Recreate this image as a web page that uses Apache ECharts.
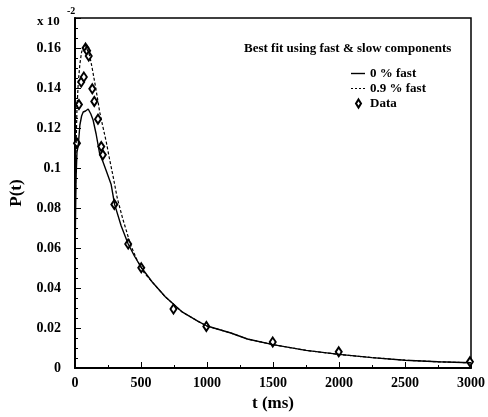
<!DOCTYPE html>
<html>
<head>
<meta charset="utf-8">
<script src="https://cdn.jsdelivr.net/npm/echarts@6/dist/echarts.min.js"></script>
<style>html,body{margin:0;padding:0;background:#fff}#c{width:488px;height:417px}</style>
</head>
<body>
<div id="c"></div>
<script>
// P(t) in units of 10^-2, t in ms
var solidT = [0, 3, 8, 15, 25, 37, 50, 62, 80, 100, 107, 120, 137, 160, 187, 211, 240, 274, 300, 350, 403, 450, 500, 585, 684, 808, 933, 1000, 1181, 1306, 1500, 1750, 2000, 2250, 2500, 2750, 3000];
var solidP = [0.045, 0.07, 0.095, 0.108, 0.1115, 0.1215, 0.126, 0.128, 0.1285, 0.1295, 0.130, 0.127, 0.124, 0.117, 0.107, 0.1033, 0.098, 0.0917, 0.0818, 0.071, 0.062, 0.056, 0.0505, 0.043, 0.0356, 0.0282, 0.0233, 0.021, 0.0175, 0.0145, 0.0117, 0.0088, 0.0068, 0.0052, 0.0039, 0.0031, 0.0026];

var dashT = [0, 3, 8, 15, 25, 37, 50, 75, 90, 112, 130, 149, 170, 187, 210, 237, 260, 286, 320, 360, 423, 470, 520, 585, 684, 808, 933, 1000, 1181, 1306, 1500, 1750, 2000, 2250, 2500, 2750, 3000];
var dashP = [0.05, 0.085, 0.11, 0.13, 0.143, 0.152, 0.158, 0.162, 0.161, 0.156, 0.150, 0.143, 0.135, 0.128, 0.121, 0.113, 0.105, 0.0967, 0.085, 0.075, 0.0612, 0.054, 0.048, 0.043, 0.0356, 0.0282, 0.0233, 0.021, 0.0175, 0.0145, 0.0117, 0.0088, 0.0068, 0.0052, 0.0039, 0.0031, 0.0026];

var dataT = [15, 30, 47, 67, 80, 92, 104, 131, 146, 174, 199, 211, 298, 403, 502, 746, 995, 1498, 1998, 2992];
var dataP = [0.1124, 0.1317, 0.143, 0.1455, 0.160, 0.1586, 0.156, 0.1396, 0.1333, 0.1244, 0.1107, 0.1066, 0.0818, 0.062, 0.0501, 0.0295, 0.0208, 0.013, 0.0081, 0.0031];

var xTicks = [0, 500, 1000, 1500, 2000, 2500, 3000];
var yTicks = [0, 0.02, 0.04, 0.06, 0.08, 0.1, 0.12, 0.14, 0.16];

var seriesNames = ['0 % fast', '0.9 % fast', 'Data'];
var legendTitle = 'Best fit using fast & slow components';

function zip(a, b) { return a.map(function (v, i) { return [v, b[i]]; }); }

var FONT = '"Liberation Serif", "DejaVu Serif", serif';
var LEG_TEXT = { fontFamily: FONT, fontWeight: 'bold', fontSize: 13, color: '#000' };
var SOLID_ICON = 'path://M0,0H14V1.4H0Z';
var DASH_ICON = 'path://M0,0H2V1.2H0ZM4,0H6V1.2H4ZM8,0H10V1.2H8ZM12,0H14V1.2H12Z';
var chart = echarts.init(document.getElementById('c'));
chart.setOption({
  animation: false,
  grid: { left: 75, right: 11, top: 18, bottom: 45, show: true, borderColor: '#000', borderWidth: 1.5, backgroundColor: 'transparent' },
  title: {
    text: legendTitle, left: 239, top: 37,
    textStyle: { fontFamily: FONT, fontWeight: 'bold', fontSize: 13, color: '#000' }
  },
  legend: [
    { data: [{ name: seriesNames[0], icon: SOLID_ICON }], left: 346, top: 62, itemWidth: 14, itemHeight: 8, itemGap: 6,
      itemStyle: { color: '#000' }, textStyle: LEG_TEXT },
    { data: [{ name: seriesNames[1], icon: DASH_ICON }], left: 346, top: 77, itemWidth: 14, itemHeight: 8, itemGap: 6,
      itemStyle: { color: '#000' }, textStyle: LEG_TEXT },
    { data: [{ name: seriesNames[2], icon: 'emptyDiamond' }], left: 350, top: 92, itemWidth: 5, itemHeight: 8, itemGap: 6,
      itemStyle: { color: '#000', borderColor: '#000', borderWidth: 1, opacity: 1 },
      textStyle: Object.assign({}, LEG_TEXT, { padding: [0, 0, 0, 4] }) }
  ],
  graphic: [
    { type: 'text', left: 37, top: 15, style: { text: 'x 10', font: 'bold 13px ' + FONT, fill: '#000' } },
    { type: 'text', left: 67, top: 6, style: { text: '-2', font: 'bold 10px ' + FONT, fill: '#000' } }
  ],
  xAxis: {
    type: 'value', min: xTicks[0], max: xTicks[xTicks.length - 1], interval: 500,
    name: 't (ms)', nameLocation: 'middle', nameGap: 27,
    nameTextStyle: { fontFamily: FONT, fontWeight: 'bold', fontSize: 17, color: '#000' },
    axisLine: { lineStyle: { color: '#000', width: 2 } },
    axisTick: { inside: true, length: 6, lineStyle: { color: '#000', width: 1 } },
    minorTick: { show: true, splitNumber: 2, length: 3, lineStyle: { color: '#000', width: 1 } },
    splitLine: { show: false },
    axisLabel: { fontFamily: FONT, fontWeight: 'bold', fontSize: 14, color: '#000', margin: 8,
      formatter: function (v) { return String(v); } }
  },
  yAxis: {
    type: 'value', min: 0, max: 0.175, interval: 0.02,
    name: 'P(t)', nameLocation: 'middle', nameGap: 50, nameRotate: 90,
    nameTextStyle: { fontFamily: FONT, fontWeight: 'bold', fontSize: 17, color: '#000' },
    axisLine: { lineStyle: { color: '#000', width: 2 } },
    axisTick: { inside: true, length: 6, lineStyle: { color: '#000', width: 1 } },
    minorTick: { show: true, splitNumber: 4, length: 3, lineStyle: { color: '#000', width: 1 } },
    splitLine: { show: false },
    axisLabel: { fontFamily: FONT, fontWeight: 'bold', fontSize: 14, color: '#000', margin: 14, showMaxLabel: false,
      formatter: function (v) { return yTicks.some(function (t) { return Math.abs(t - v) < 1e-9; }) ? String(+v.toFixed(2)) : ''; } }
  },
  series: [
    { name: seriesNames[0], type: 'line', data: zip(solidT, solidP), showSymbol: false, symbol: 'none',
      lineStyle: { color: '#000', width: 1.4, type: 'solid' }, itemStyle: { color: '#000' } },
    { name: seriesNames[1], type: 'line', data: zip(dashT, dashP), showSymbol: false, symbol: 'none',
      lineStyle: { color: '#000', width: 1.2, type: [3, 2] }, itemStyle: { color: '#000' } },
    { name: seriesNames[2], type: 'scatter', data: zip(dataT, dataP), symbol: 'emptyDiamond', symbolSize: [6, 9],
      itemStyle: { color: '#000', borderColor: '#000', borderWidth: 1, opacity: 1 } }
  ]
});
</script>
</body>
</html>
